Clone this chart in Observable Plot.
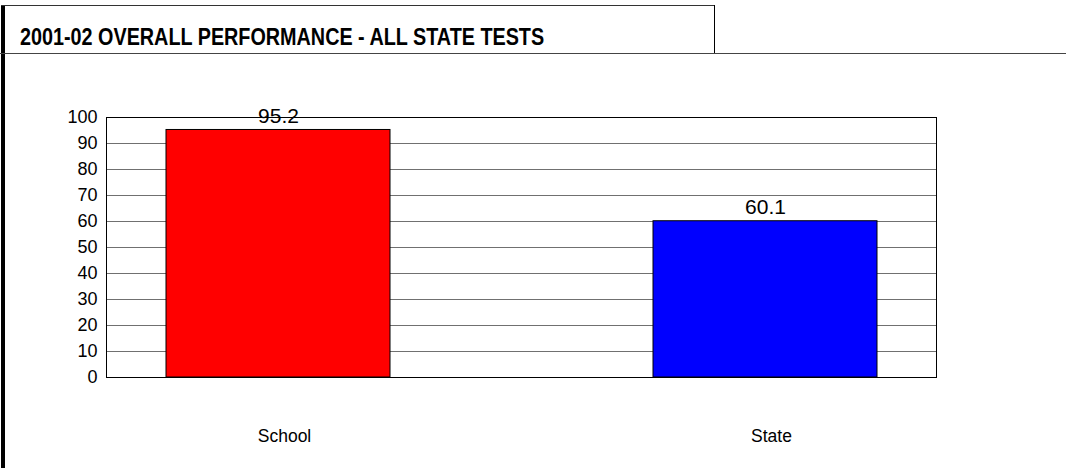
<!DOCTYPE html>
<html>
<head>
<meta charset="utf-8">
<script src="https://cdn.jsdelivr.net/npm/d3@7"></script>
<script src="https://cdn.jsdelivr.net/npm/@observablehq/plot@0.6"></script>
<style>
  html, body { margin: 0; padding: 0; background: #fff; }
  #wrap { position: relative; width: 1066px; height: 468px; overflow: hidden; background: #fff; }
  .ln { position: absolute; }
  #title {
    position: absolute; left: 20px; top: 25px; margin: 0;
    font-family: "Liberation Sans Narrow", "Arial Narrow", "Liberation Sans", Arial, sans-serif;
    font-weight: bold; font-size: 24px; line-height: 24px; color: #000; white-space: nowrap;
    transform: scaleX(0.824); transform-origin: 0 0;
  }
  #chart { position: absolute; left: 0; top: 53px; }
</style>
</head>
<body>
<div id="wrap">
  <div class="ln" style="left:1px;top:5px;width:4px;height:463px;background:#000;"></div>
  <div class="ln" style="left:1px;top:5px;width:714px;height:1px;background:#333;"></div>
  <div class="ln" style="left:714px;top:5px;width:1px;height:48px;background:#000;"></div>
  <div class="ln" style="left:0px;top:53px;width:1066px;height:1px;background:#444;"></div>
  <div id="title">2001-02 OVERALL PERFORMANCE - ALL STATE TESTS</div>
  <div id="chart"></div>
</div>
<script>
const categories = ["School", "State"];
const values = [95.2, 60.1];
const valueLabels = ["95.2", "60.1"];
const yTicks = [0, 10, 20, 30, 40, 50, 60, 70, 80, 90, 100];
const barColors = ["#ff0000", "#0000ff"];

const data = categories.map((c, i) => ({category: c, value: values[i], label: valueLabels[i]}));

const chart = Plot.plot({
  width: 1066,
  height: 415,
  marginLeft: 106,
  marginRight: 130,
  marginTop: 64,
  marginBottom: 91,
  style: {fontFamily: "'Liberation Sans', Arial, sans-serif", background: "transparent", color: "#000"},
  x: {domain: categories, paddingInner: 0.541, paddingOuter: 0.121, label: null},
  y: {domain: [0, 100], label: null},
  color: {domain: categories, range: barColors},
  marks: [
    Plot.ruleY(yTicks.filter(d => d > 0 && d < 100), {stroke: "#707070", strokeWidth: 1}),
    Plot.barY(data, {x: "category", y: "value", fill: "category", stroke: "#000", strokeWidth: 1}),
    Plot.frame({stroke: "#000", strokeWidth: 1}),
    Plot.axisY({ticks: yTicks, tickSize: 0, tickPadding: 9, fontSize: 18, label: null}),
    Plot.axisX({tickSize: 0, tickPadding: 52, fontSize: 17.5, dx: 6, label: null}),
    Plot.text(data, {x: "category", y: "value", text: "label", lineAnchor: "bottom", dy: -7, fontSize: 21, fill: "#000"})
  ]
});
document.getElementById("chart").appendChild(chart);
</script>
</body>
</html>
